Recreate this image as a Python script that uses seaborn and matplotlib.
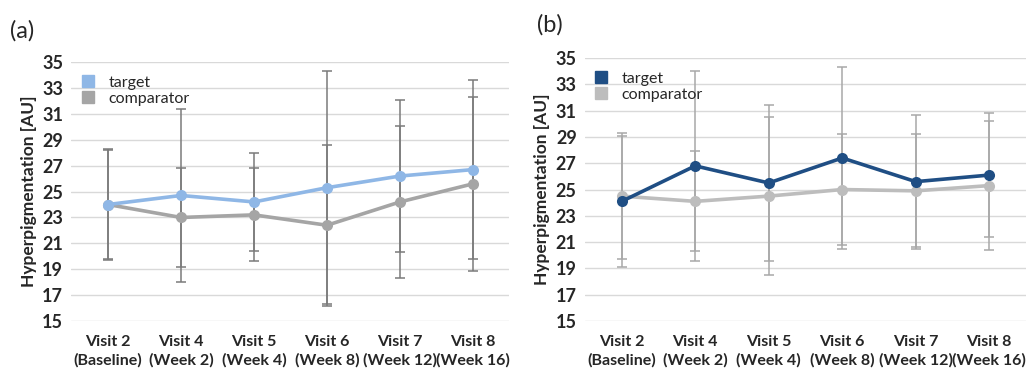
import numpy as np
import pandas as pd
import matplotlib.pyplot as plt
import seaborn as sns
from matplotlib.lines import Line2D

visits = ["Visit 2\n(Baseline)", "Visit 4\n(Week 2)", "Visit 5\n(Week 4)",
          "Visit 6\n(Week 8)", "Visit 7\n(Week 12)", "Visit 8\n(Week 16)"]

# panel (a)
a_target = [24.0, 24.7, 24.2, 25.3, 26.2, 26.7]
a_target_sd = [4.3, 6.7, 3.8, 9.0, 5.9, 6.9]
a_comp = [24.0, 23.0, 23.2, 22.4, 24.2, 25.6]
a_comp_sd = [4.2, 3.8, 3.6, 6.2, 5.9, 6.7]

# panel (b)
b_target = [24.1, 26.8, 25.5, 27.4, 25.6, 26.1]
b_target_sd = [5.0, 7.2, 5.9, 6.9, 5.1, 4.7]
b_comp = [24.5, 24.1, 24.5, 25.0, 24.9, 25.3]
b_comp_sd = [4.8, 3.8, 6.0, 4.2, 4.3, 4.9]

sns.set_style("white")
plt.rcParams['font.family'] = ['Lato', 'DejaVu Sans']

fig = plt.figure(figsize=(10.27, 3.72), dpi=100)
ax1 = fig.add_axes([0.0696, 0.137, 0.4265, 0.696])
ax2 = fig.add_axes([0.5696, 0.137, 0.4294, 0.707])


def draw(ax, tgt, tgt_sd, cmp_, cmp_sd, c_tgt, c_cmp, c_err):
    df = pd.DataFrame({
        "visit": visits * 2,
        "value": tgt + cmp_,
        "group": ["target"] * 6 + ["comparator"] * 6,
    })
    x = np.arange(len(visits))
    # error bars first (behind lines)
    ax.errorbar(x, cmp_, yerr=cmp_sd, fmt="none", ecolor=c_err, elinewidth=1.1,
                capsize=3.5, capthick=1.1, zorder=2)
    ax.errorbar(x, tgt, yerr=tgt_sd, fmt="none", ecolor=c_err, elinewidth=1.1,
                capsize=3.5, capthick=1.1, zorder=2)
    sns.lineplot(data=df, x="visit", y="value", hue="group",
                 hue_order=["comparator", "target"],
                 palette={"target": c_tgt, "comparator": c_cmp},
                 marker="o", markersize=8, markeredgewidth=0, linewidth=2.6,
                 legend=False, ax=ax, zorder=3, sort=False)
    ax.set_xlim(-0.5, 5.5)
    ax.set_ylim(15, 35)
    ax.set_yticks(range(15, 36, 2))
    ax.set_xticks(x)
    ax.set_xticklabels(visits, fontsize=11.5, fontweight="bold", linespacing=1.35)
    for lab in ax.get_yticklabels():
        lab.set_fontsize(13)
        lab.set_fontweight("bold")
    ax.grid(axis="y", color="#d9d9d9", linewidth=1)
    ax.set_axisbelow(True)
    for s in ax.spines.values():
        s.set_visible(False)
    ax.tick_params(axis="y", length=0, pad=6)
    ax.tick_params(axis="x", length=0, pad=10)
    ax.set_xlabel("")
    ax.set_ylabel("Hyperpigmentation [AU]", fontsize=12.5, fontweight="bold", labelpad=4)
    handles = [Line2D([], [], marker="s", linestyle="none", color=c_tgt, markersize=8),
               Line2D([], [], marker="s", linestyle="none", color=c_cmp, markersize=8)]
    ax.legend(handles, ["target", "comparator"], loc="upper left",
              bbox_to_anchor=(-0.025, 0.99), frameon=False, fontsize=11.5,
              handletextpad=0.3, labelspacing=0.1, borderaxespad=0.3)


draw(ax1, a_target, a_target_sd, a_comp, a_comp_sd, "#8fb7e6", "#a5a5a5", "#7a7a7a")
draw(ax2, b_target, b_target_sd, b_comp, b_comp_sd, "#1f4e84", "#bdbdbd", "#a8a8a8")

fig.text(0.010, 0.90, "(a)", fontsize=17)
fig.text(0.523, 0.915, "(b)", fontsize=17)

fig.savefig("out.png", dpi=100)
